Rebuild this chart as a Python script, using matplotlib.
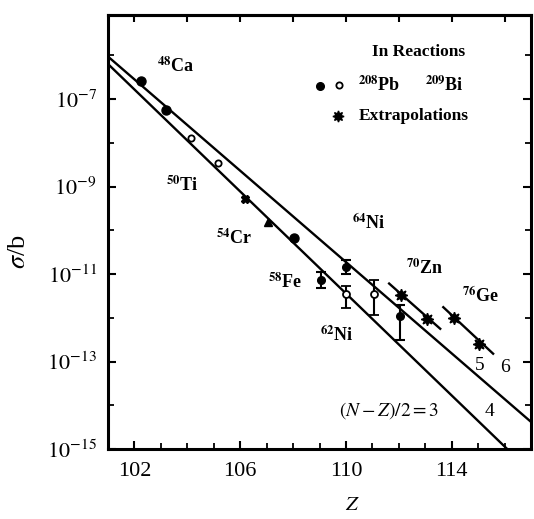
import matplotlib
matplotlib.use('Agg')
import matplotlib.pyplot as plt
import numpy as np

plt.rcParams['font.family'] = ['Liberation Serif', 'DejaVu Serif']
plt.rcParams['mathtext.fontset'] = 'stix'

# ---------------- data (log10 sigma/b) ----------------
# systematics lines (N-Z)/2 = 3 and 4 : endpoints
line3_z = [101.0, 116.1]
line3_log = [-6.20, -15.0]
line4_z = [101.0, 117.0]
line4_log = [-6.03, -14.38]
# extrapolation lines (5: 70Zn, 6: 76Ge)
line5_z = [111.6, 113.6]
line5_log = [-11.20, -12.27]
line6_z = [113.65, 115.6]
line6_log = [-11.74, -12.84]

# 208Pb reactions (filled), no error bars
pb_z = [102.25, 103.2, 108.05]
pb_log = [-6.59, -7.24, -10.18]
# 209Bi reactions (open), no error bars
bi_z = [104.15, 105.15]
bi_log = [-7.88, -8.47]
# other points
cr_z = [106.2]
cr_log = [-9.29]
tri_z = [107.05]
tri_log = [-9.81]

# filled points with error bars
pbe_z = [109.05, 110.0, 112.05]
pbe_log = [-11.14, -10.83, -11.95]
pbe_lo = [-11.33, -11.00, -12.50]
pbe_hi = [-10.95, -10.67, -11.70]
# open points with error bars
bie_z = [110.0, 111.05]
bie_log = [-11.46, -11.46]
bie_lo = [-11.78, -11.94]
bie_hi = [-11.27, -11.14]

# extrapolations
ext_z = [112.1, 113.05, 114.1, 115.05]
ext_log = [-11.48, -12.03, -12.00, -12.60]

# labels (text, Z, log sigma)
labels = [
    (r"$^{\mathbf{48}}$Ca", 103.55, -6.25),
    (r"$^{\mathbf{50}}$Ti", 103.81, -8.97),
    (r"$^{\mathbf{54}}$Cr", 105.77, -10.18),
    (r"$^{\mathbf{58}}$Fe", 107.70, -11.20),
    (r"$^{\mathbf{64}}$Ni", 110.87, -9.83),
    (r"$^{\mathbf{62}}$Ni", 109.66, -12.39),
    (r"$^{\mathbf{70}}$Zn", 112.98, -10.86),
    (r"$^{\mathbf{76}}$Ge", 115.09, -11.50),
]
line_labels = [
    ("5", 115.06, -13.08),
    ("6", 116.0, -13.13),
    ("4", 115.43, -14.15),
    (r"$(N-Z)/2=3$", 111.62, -14.13),
]

xticks_major = [102, 106, 110, 114]
yticks_labeled = [-7, -9, -11, -13, -15]

# ---------------- figure ----------------
fig = plt.figure(figsize=(5.34, 5.19), dpi=100)
ax = fig.add_axes([108/534, 70/519, 423/534, 434/519])
ax.set_yscale('log')
ax.set_xlim(101, 117)
ax.set_ylim(1e-15, 10**-5.08)

p = lambda v: 10**np.array(v, dtype=float)
lw = 1.7
for zz, ll in [(line3_z, line3_log), (line4_z, line4_log),
               (line5_z, line5_log), (line6_z, line6_log)]:
    ax.plot(zz, p(ll), color='black', lw=lw, solid_capstyle='butt')

ax.plot(pb_z, p(pb_log), 'o', color='black', ms=6.5, ls='none')
ax.plot(bi_z, p(bi_log), 'o', mfc='white', mec='black', mew=1.3, ms=4.5, ls='none')
ax.plot(cr_z, p(cr_log), 'X', color='black', ms=5.5, ls='none')
ax.plot(tri_z, p(tri_log), '^', color='black', ms=5.5, ls='none')

v = np.array(pbe_log); lo = np.array(pbe_lo); hi = np.array(pbe_hi)
ax.errorbar(pbe_z, p(v), yerr=[p(v)-p(lo), p(hi)-p(v)], fmt='o', color='black',
            ms=5.5, capsize=3.5, elinewidth=1.5, capthick=1.5)
v = np.array(bie_log); lo = np.array(bie_lo); hi = np.array(bie_hi)
ax.errorbar(bie_z, p(v), yerr=[p(v)-p(lo), p(hi)-p(v)], fmt='o', mfc='white',
            mec='black', mew=1.3, color='black', ms=5, capsize=3.5,
            elinewidth=1.5, capthick=1.5, zorder=4)
ax.plot(ext_z, p(ext_log), marker=(8, 1, 0), color='black', ms=9, ls='none', zorder=5)

for t, zx, ly in labels:
    ax.text(zx, 10**ly, t, fontsize=13, fontweight='bold', ha='center', va='center')
for t, zx, ly in line_labels:
    ax.text(zx, 10**ly, t, fontsize=14, ha='center', va='center')

# legend drawn by hand
ax.text(0.735, 0.915, "In Reactions", transform=ax.transAxes, fontsize=12.5,
        fontweight='bold', ha='center', va='center')
ax.plot([0.501], [0.836], 'o', color='black', ms=5.5, transform=ax.transAxes)
ax.plot([0.546], [0.839], 'o', mfc='white', mec='black', mew=1.3, ms=4.5,
        transform=ax.transAxes)
ax.text(0.592, 0.839, r"$^{\mathbf{208}}$Pb", transform=ax.transAxes, fontsize=13,
        fontweight='bold', ha='left', va='center')
ax.text(0.750, 0.839, r"$^{\mathbf{209}}$Bi", transform=ax.transAxes, fontsize=13,
        fontweight='bold', ha='left', va='center')
ax.plot([0.544], [0.767], marker=(8, 1, 0), color='black', ms=8, transform=ax.transAxes)
ax.text(0.592, 0.767, "Extrapolations", transform=ax.transAxes, fontsize=12.5,
        fontweight='bold', ha='left', va='center')

# ticks
ax.set_xticks(xticks_major)
ax.set_xticklabels([str(t) for t in xticks_major], fontsize=16)
ax.set_xticks(np.arange(101, 118, 1), minor=True)
ax.set_yticks([10.0**e for e in yticks_labeled])
ax.set_yticklabels([r"$10^{%d}$" % e for e in yticks_labeled], fontsize=16)
ax.set_yticks([10.0**e for e in range(-15, -5)], minor=True)
ax.yaxis.set_minor_formatter(matplotlib.ticker.NullFormatter())
ax.tick_params(axis='both', which='major', direction='in', length=6, width=1.5)
ax.tick_params(axis='both', which='minor', direction='in', length=4, width=1.3)
ax.tick_params(axis='x', which='major', pad=9)
ax.tick_params(axis='y', which='major', pad=8)
ax.tick_params(axis='y', which='both', right=True)

# top ticks every 2
secx = ax.secondary_xaxis('top')
secx.set_xticks(np.arange(102, 118, 2))
secx.set_xticklabels([])
secx.tick_params(direction='in', length=5, width=1.5)
secx.spines['top'].set_linewidth(2.2)

for s in ax.spines.values():
    s.set_linewidth(2.2)

ax.set_ylabel(r"$\sigma$/b", fontsize=19)
ax.yaxis.set_label_coords(-0.184, 0.454)
ax.set_xlabel(r"$Z$", fontsize=15)
ax.xaxis.set_label_coords(0.577, -0.108)

fig.savefig('out.png', dpi=100)
